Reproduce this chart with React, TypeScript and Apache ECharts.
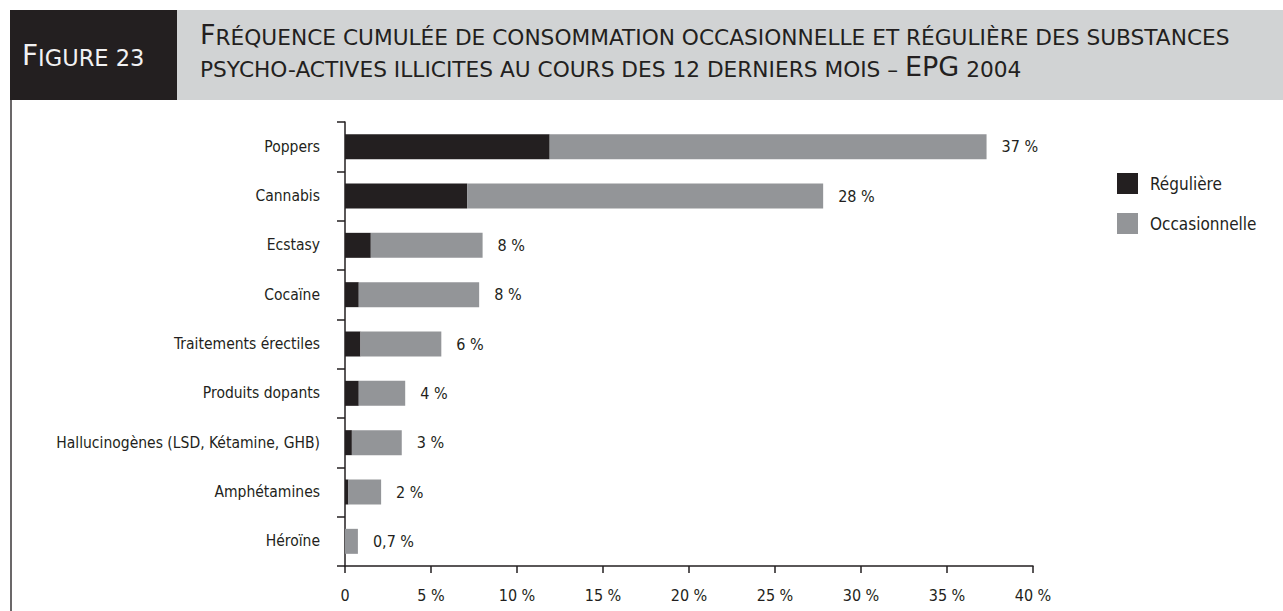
import React, { useEffect, useRef } from "react";
import * as echarts from "echarts";

const categories = [
  "Poppers",
  "Cannabis",
  "Ecstasy",
  "Cocaïne",
  "Traitements érectiles",
  "Produits dopants",
  "Hallucinogènes (LSD, Kétamine, GHB)",
  "Amphétamines",
  "Héroïne",
];
const reguliere = [11.9, 7.1, 1.5, 0.8, 0.9, 0.8, 0.4, 0.2, 0];
const occasionnelle = [25.4, 20.7, 6.5, 7.0, 4.7, 2.7, 2.9, 1.9, 0.75];
const valueLabels = ["37 %", "28 %", "8 %", "8 %", "6 %", "4 %", "3 %", "2 %", "0,7 %"];
const xTicks = [0, 5, 10, 15, 20, 25, 30, 35, 40];
const seriesNames = ["Régulière", "Occasionnelle"];
const figureLabel = "Figure 23";
const titleLines = [
  "Fréquence cumulée de consommation occasionnelle et régulière des substances",
  "psycho-actives illicites au cours des 12 derniers mois – EPG 2004",
];

const DARK = "#231f20";
const GREY = "#939598";
const HEAD = "#d1d3d4";
const LABEL_FONT = "'DejaVu Sans Condensed', 'Liberation Sans Narrow', sans-serif";
const TITLE_FONT = "'DejaVu Sans', sans-serif";

function smallCaps(s: string): string {
  let out = "";
  let cur = "";
  let curStyle = "";
  const flush = () => {
    if (cur) out += `{${curStyle}|${cur}}`;
    cur = "";
  };
  for (const ch of s) {
    const isBig = ch !== ch.toLowerCase() && ch === ch.toUpperCase();
    const st = isBig ? "B" : "S";
    if (st !== curStyle) {
      flush();
      curStyle = st;
    }
    cur += ch.toUpperCase();
  }
  flush();
  return out;
}

function richStyles(big: number, small: number, color: string) {
  return {
    B: { fontSize: big, lineHeight: big, fontFamily: TITLE_FONT, fill: color, verticalAlign: "bottom" },
    S: { fontSize: small, lineHeight: big, fontFamily: TITLE_FONT, fill: color, verticalAlign: "bottom" },
  };
}

export default function App() {
  const ref = useRef<HTMLDivElement>(null);
  useEffect(() => {
    if (!ref.current) return;
    const chart = echarts.init(ref.current, null, { renderer: "svg" });
    chart.setOption({
      animation: false,
      backgroundColor: "#ffffff",
      textStyle: { fontFamily: LABEL_FONT },
      grid: { left: 345, right: 250, top: 122, bottom: 45, containLabel: false },
      legend: {
        data: seriesNames,
        orient: "vertical",
        left: 1117,
        top: 173,
        padding: 0,
        itemWidth: 21,
        itemHeight: 21,
        itemGap: 19,
        icon: "rect",
        textStyle: { fontSize: 17, color: DARK, fontFamily: LABEL_FONT, padding: [0, 0, 0, 7] },
      },
      xAxis: {
        type: "value",
        min: xTicks[0],
        max: xTicks[xTicks.length - 1],
        interval: 5,
        axisLine: { show: true, lineStyle: { color: DARK, width: 1.5 } },
        axisTick: { show: true, length: 7, lineStyle: { color: DARK, width: 1.5 } },
        splitLine: { show: false },
        axisLabel: {
          fontSize: 16,
          color: DARK,
          margin: 21,
          fontFamily: LABEL_FONT,
          formatter: (v: number) => (v === 0 ? "0" : `${v} %`),
        },
      },
      yAxis: {
        type: "category",
        data: categories,
        inverse: true,
        axisLine: { show: true, lineStyle: { color: DARK, width: 1.5 } },
        axisTick: { show: true, length: 8, lineStyle: { color: DARK, width: 1.5 } },
        axisLabel: { fontSize: 15.5, color: DARK, margin: 25, fontFamily: LABEL_FONT },
      },
      series: [
        {
          name: seriesNames[0],
          type: "bar",
          stack: "total",
          barWidth: 25,
          data: reguliere,
          itemStyle: { color: DARK },
        },
        {
          name: seriesNames[1],
          type: "bar",
          stack: "total",
          barWidth: 25,
          data: occasionnelle,
          itemStyle: { color: GREY },
          label: {
            show: true,
            position: "right",
            distance: 15,
            fontSize: 16,
            color: DARK,
            fontFamily: LABEL_FONT,
            formatter: (p: any) => valueLabels[p.dataIndex],
          },
        },
      ],
      graphic: [
        { type: "rect", shape: { x: 10, y: 10, width: 167, height: 90 }, style: { fill: DARK }, z: -1 },
        { type: "rect", shape: { x: 177, y: 10, width: 1106, height: 90 }, style: { fill: HEAD }, z: -1 },
        { type: "line", shape: { x1: 11, y1: 100, x2: 11, y2: 611 }, style: { stroke: "#3a3637", lineWidth: 1.5 } },
        {
          type: "text",
          left: 22,
          top: 41,
          style: { text: smallCaps(figureLabel), fill: "#f1f1f2", rich: richStyles(28, 22.5, "#f1f1f2") },
        },
        {
          type: "text",
          left: 200,
          top: 21,
          style: { text: smallCaps(titleLines[0]), fill: DARK, rich: richStyles(27, 21.7, DARK) },
        },
        {
          type: "text",
          left: 200,
          top: 53,
          style: { text: smallCaps(titleLines[1]), fill: DARK, rich: richStyles(27, 21.7, DARK) },
        },
      ],
    });
    return () => chart.dispose();
  }, []);
  return (
    <div
      ref={ref}
      style={{ position: "fixed", left: 0, top: 0, width: 1283, height: 611, background: "#fff" }}
    />
  );
}
